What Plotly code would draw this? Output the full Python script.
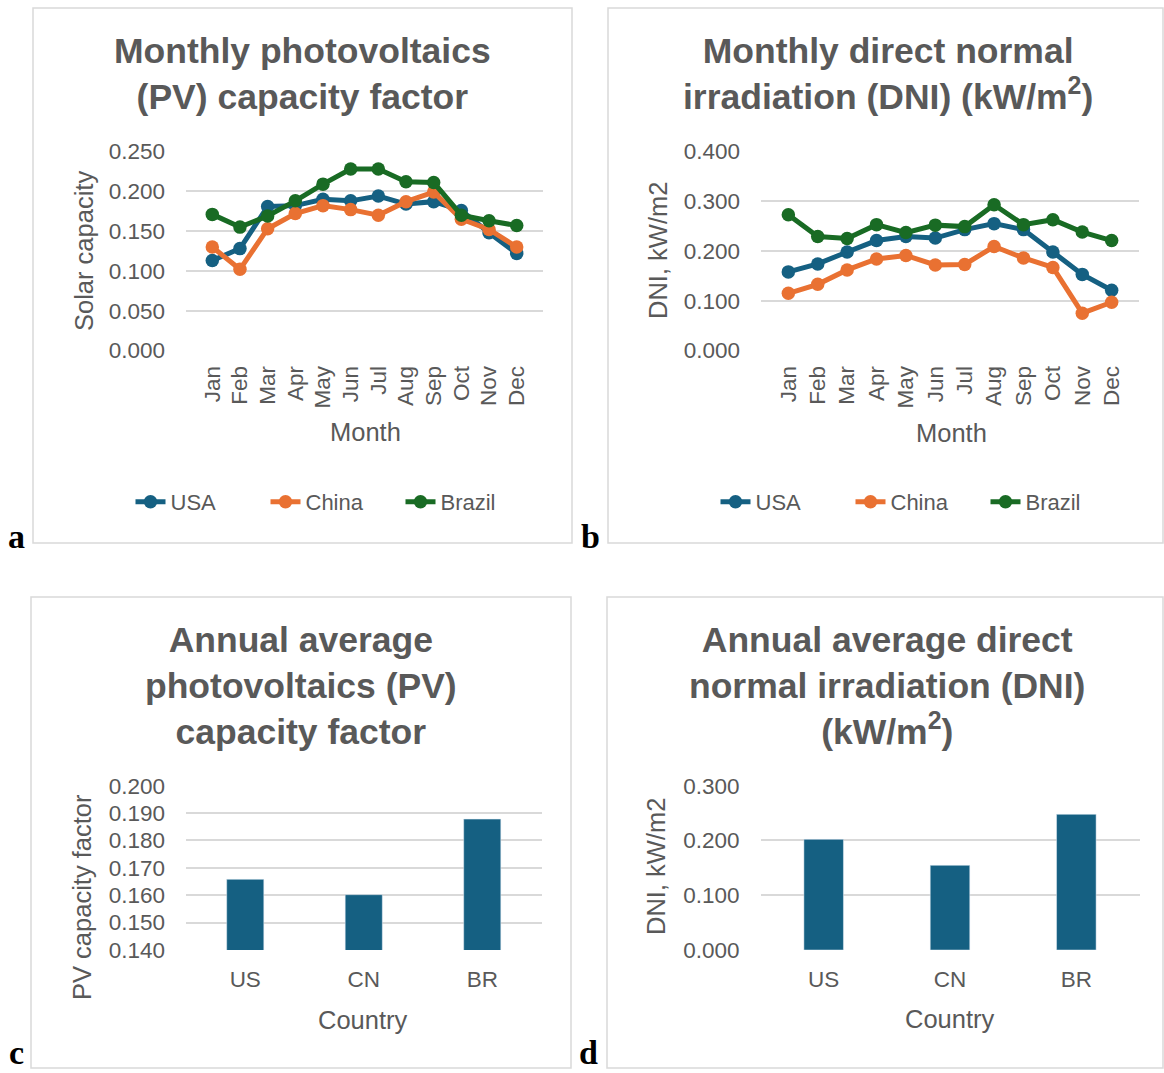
import plotly.graph_objects as go

W, H = 1164, 1073

months = ["Jan", "Feb", "Mar", "Apr", "May", "Jun", "Jul", "Aug", "Sep", "Oct", "Nov", "Dec"]

pv_usa = [0.113, 0.128, 0.181, 0.182, 0.190, 0.188, 0.194, 0.184, 0.187, 0.176, 0.148, 0.122]
pv_china = [0.130, 0.102, 0.153, 0.172, 0.182, 0.177, 0.170, 0.187, 0.199, 0.165, 0.152, 0.130]
pv_brazil = [0.171, 0.155, 0.169, 0.188, 0.209, 0.228, 0.228, 0.212, 0.211, 0.170, 0.163, 0.157]

dni_usa = [0.158, 0.174, 0.198, 0.221, 0.229, 0.226, 0.243, 0.255, 0.243, 0.198, 0.153, 0.121]
dni_china = [0.115, 0.133, 0.162, 0.184, 0.191, 0.172, 0.173, 0.209, 0.186, 0.167, 0.075, 0.097]
dni_brazil = [0.273, 0.229, 0.225, 0.253, 0.237, 0.252, 0.249, 0.293, 0.253, 0.263, 0.238, 0.221]

countries = ["US", "CN", "BR"]
pv_annual = [0.1658, 0.1602, 0.1878]
dni_annual = [0.202, 0.1546, 0.2477]

series_names = ["USA", "China", "Brazil"]
colors = ["#156082", "#E97132", "#196B24"]

GRAY = "#595959"
GRID = "#d9d9d9"
SANS = "Liberation Sans, Arial, sans-serif"
TICKFONT = dict(family=SANS, size=22.5, color=GRAY)
AXFONT = dict(family=SANS, size=25.5, color=GRAY)
TITLEFONT = dict(family=SANS, size=35.5, color=GRAY)


def px(x):
    return x / W


def py(y):
    return 1 - y / H


fig = go.Figure()

for name, vals, col in zip(series_names, [pv_usa, pv_china, pv_brazil], colors):
    fig.add_trace(go.Scatter(x=months, y=vals, name=name, mode="lines+markers",
                             line=dict(color=col, width=5), marker=dict(color=col, size=13.5),
                             xaxis="x", yaxis="y", legend="legend"))
for name, vals, col in zip(series_names, [dni_usa, dni_china, dni_brazil], colors):
    fig.add_trace(go.Scatter(x=months, y=vals, name=name, mode="lines+markers",
                             line=dict(color=col, width=5), marker=dict(color=col, size=13.5),
                             xaxis="x2", yaxis="y2", legend="legend2"))

fig.add_trace(go.Bar(x=countries, y=pv_annual, marker=dict(color="#156082"), width=0.313,
                     xaxis="x3", yaxis="y3", showlegend=False))
fig.add_trace(go.Bar(x=countries, y=dni_annual, marker=dict(color="#156082"), width=0.313,
                     xaxis="x4", yaxis="y4", showlegend=False))


def xax(domain, anchor, angle, standoff):
    return dict(domain=domain, anchor=anchor, type="category", showgrid=False, zeroline=False,
                showline=False, ticks="", tickangle=angle, tickfont=TICKFONT,
                ticklabelstandoff=standoff, fixedrange=True, automargin=False)


def yax(domain, anchor, rng, dtick):
    return dict(domain=domain, anchor=anchor, range=rng, dtick=dtick, tick0=rng[0], tickformat=".3f",
                showgrid=True, gridcolor=GRID, gridwidth=2, zeroline=False, showline=False,
                ticks="", tickfont=TICKFONT, ticklabelstandoff=20, fixedrange=True, automargin=False)


top_dom = [py(350.5), py(151.5)]
bot_dom = [py(950), py(785.7)]

LEGFONT = dict(family=SANS, size=22, color=GRAY)

fig.update_layout(
    width=W, height=H, margin=dict(l=0, r=0, t=0, b=0, pad=0, autoexpand=False),
    paper_bgcolor="white", plot_bgcolor="white",
    xaxis=xax([px(186), px(543)], "y", -90, 10),
    yaxis=yax(top_dom, "x", [0, 0.25], 0.05),
    xaxis2=xax([px(761), px(1139)], "y2", -90, 10),
    yaxis2=yax(top_dom, "x2", [0, 0.4], 0.1),
    xaxis3=xax([px(186), px(541.5)], "y3", 0, 13),
    yaxis3=yax(bot_dom, "x3", [0.14, 0.2], 0.01),
    xaxis4=xax([px(760.5), px(1139.5)], "y4", 0, 13),
    yaxis4=yax(bot_dom, "x4", [0, 0.3], 0.1),
    legend=dict(orientation="h", x=px(333), xanchor="center", y=py(502), yanchor="middle",
                font=LEGFONT, bgcolor="rgba(0,0,0,0)", entrywidth=90, entrywidthmode="pixels"),
    legend2=dict(orientation="h", x=px(918), xanchor="center", y=py(502), yanchor="middle",
                 font=LEGFONT, bgcolor="rgba(0,0,0,0)", entrywidth=90, entrywidthmode="pixels"),
    showlegend=True,
)

# panel borders
for x0, y0, x1, y1 in [(33, 8, 572, 543), (608, 8, 1163, 543), (31, 597, 571, 1068), (607, 597, 1163, 1068)]:
    fig.add_shape(type="rect", xref="paper", yref="paper", x0=px(x0), x1=px(x1), y0=py(y0), y1=py(y1),
                  line=dict(color=GRID, width=1.5), fillcolor="rgba(0,0,0,0)", layer="below")

annots = []
# titles
for text, x, y in [
    ("<b>Monthly photovoltaics<br>(PV) capacity factor</b>", 302, 73.5),
    ("<b>Monthly direct normal<br>irradiation (DNI) (kW/m<sup>2</sup>)</b>", 888, 73.5),
    ("<b>Annual average<br>photovoltaics (PV)<br>capacity factor</b>", 301, 685.5),
    ("<b>Annual average direct<br>normal irradiation (DNI)<br>(kW/m<sup>2</sup>)</b>", 887, 685.5),
]:
    annots.append(dict(text=text, x=px(x), y=py(y), xref="paper", yref="paper", xanchor="center",
                       yanchor="middle", showarrow=False, font=TITLEFONT))
# axis titles
for text, x, y, ang in [
    ("Solar capacity", 84, 251, -90), ("DNI, kW/m2", 658, 251, -90),
    ("PV capacity factor", 82, 897, -90), ("DNI, kW/m2", 656, 867, -90),
    ("Month", 365, 432, 0), ("Month", 951, 433, 0),
    ("Country", 363, 1020, 0), ("Country", 950, 1019, 0),
]:
    annots.append(dict(text=text, x=px(x), y=py(y), xref="paper", yref="paper", xanchor="center",
                       yanchor="middle", showarrow=False, font=AXFONT, textangle=ang))
# panel letters
for text, x, y, anc in [("a", 16.5, 536, "middle"), ("b", 590.5, 536, "middle"),
                        ("c", 16.5, 1073, "bottom"), ("d", 588.5, 1073, "bottom")]:
    annots.append(dict(text="<b>%s</b>" % text, x=px(x), y=py(y), xref="paper", yref="paper",
                       xanchor="center", yanchor=anc, showarrow=False,
                       font=dict(family="Liberation Serif, Times New Roman, serif", size=34, color="black")))

fig.update_layout(annotations=annots)

fig.write_html("out.html")
